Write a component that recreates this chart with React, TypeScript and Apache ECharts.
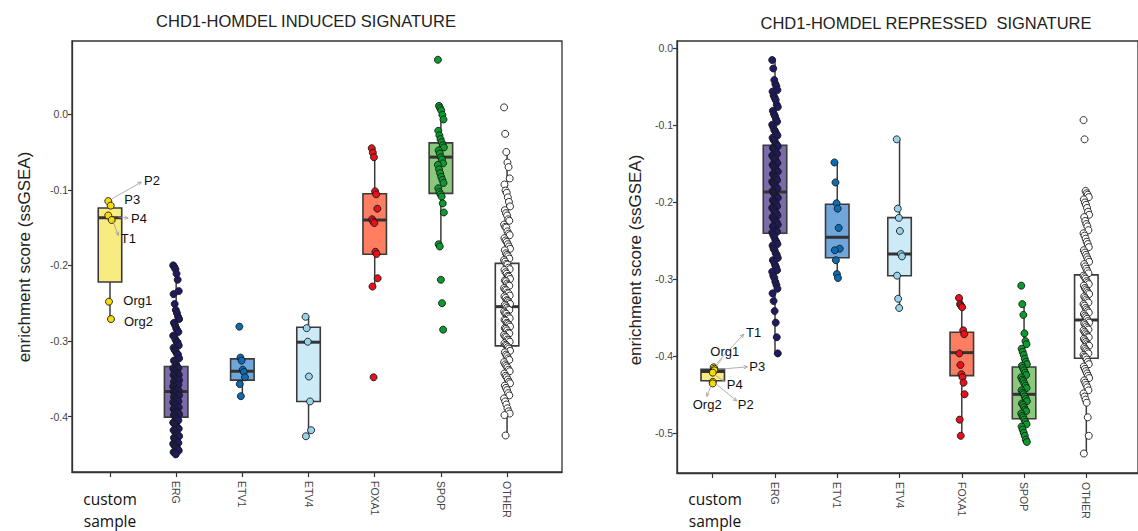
import React, { useEffect, useRef } from "react";
import * as echarts from "echarts";

// ---------- categories & ticks ----------
const groups = ["custom", "ERG", "ETV1", "ETV4", "FOXA1", "SPOP", "OTHER"];
const tickLabels = ["", "ERG", "ETV1", "ETV4", "FOXA1", "SPOP", "OTHER"];
const yTicksInduced = [0, -0.1, -0.2, -0.3, -0.4];
const yTicksRepressed = [0, -0.1, -0.2, -0.3, -0.4, -0.5];

// ---------- INDUCED signature ----------
const indCustomNames = ["P2", "P3", "P4", "T1", "Org1", "Org2"];
const indCustom = [-0.115, -0.121, -0.134, -0.14, -0.248, -0.271];
const indErg = [-0.2, -0.202, -0.205, -0.211, -0.219, -0.234, -0.238, -0.251, -0.259, -0.263, -0.268, -0.271, -0.276, -0.279, -0.283, -0.286, -0.288, -0.293, -0.294, -0.298, -0.301, -0.302, -0.306, -0.309, -0.312, -0.314, -0.317, -0.318, -0.323, -0.326, -0.327, -0.331,
  -0.334, -0.336, -0.336, -0.339, -0.34, -0.342, -0.343, -0.345, -0.345, -0.347, -0.349, -0.35, -0.352, -0.352, -0.354, -0.355, -0.357, -0.358, -0.358, -0.36, -0.361, -0.363, -0.364, -0.364, -0.366, -0.367,
  -0.368, -0.369, -0.371, -0.372, -0.372, -0.374, -0.376, -0.377, -0.378, -0.38, -0.381, -0.383, -0.384, -0.385, -0.387, -0.388, -0.39, -0.391, -0.393, -0.394, -0.395, -0.397, -0.398, -0.4,
  -0.402, -0.403, -0.405, -0.408, -0.409, -0.411, -0.413, -0.415, -0.416, -0.418, -0.419, -0.422, -0.423, -0.425, -0.426, -0.428, -0.43, -0.431, -0.433, -0.435, -0.436, -0.438, -0.439, -0.441, -0.443, -0.445, -0.447, -0.448, -0.45];
const indEtv1 = [-0.281, -0.322, -0.326, -0.338, -0.341, -0.348, -0.357, -0.373];
const indEtv4 = [-0.268, -0.283, -0.301, -0.347, -0.38, -0.418, -0.426];
const indFoxa1 = [-0.045, -0.051, -0.057, -0.102, -0.106, -0.125, -0.139, -0.142, -0.144, -0.182, -0.185, -0.217, -0.228, -0.348];
const indSpop = [0.072, 0.011, 0.008, 0.005, -0.001, -0.007, -0.022, -0.028, -0.033, -0.037, -0.041, -0.044, -0.048, -0.052, -0.057, -0.06, -0.065, -0.067, -0.073, -0.078, -0.083, -0.087, -0.091, -0.098, -0.103, -0.106, -0.109, -0.118, -0.13, -0.172, -0.175, -0.219, -0.25, -0.285];
const indOther = [0.009, -0.026, -0.05, -0.064, -0.07, -0.085, -0.093, -0.101, -0.104, -0.11, -0.116, -0.122, -0.127, -0.131, -0.134, -0.139, -0.141, -0.146, -0.149, -0.15, -0.155, -0.158, -0.16, -0.164, -0.167, -0.169, -0.172, -0.175, -0.178, -0.18, -0.184, -0.186, -0.188, -0.191, -0.193, -0.195,
  -0.198, -0.199, -0.203, -0.205, -0.206, -0.209, -0.211, -0.214, -0.215, -0.218, -0.22, -0.221, -0.224, -0.226, -0.227, -0.23, -0.232, -0.233, -0.236, -0.237, -0.24, -0.241, -0.243, -0.246, -0.247, -0.249, -0.251, -0.252, -0.254,
  -0.256, -0.258, -0.259, -0.261, -0.263, -0.264, -0.267, -0.268, -0.27, -0.272, -0.273, -0.276, -0.277, -0.279, -0.281, -0.283, -0.284, -0.286, -0.289, -0.29, -0.292, -0.294, -0.295, -0.298, -0.299, -0.301, -0.303, -0.305, -0.306,
  -0.308, -0.31, -0.313, -0.315, -0.318, -0.32, -0.323, -0.325, -0.328, -0.331, -0.333, -0.335, -0.338, -0.34, -0.343, -0.346, -0.348, -0.351, -0.354, -0.356, -0.359, -0.362, -0.365, -0.369, -0.372, -0.376, -0.38, -0.384, -0.389, -0.393, -0.396, -0.398, -0.425];
// box stats: [lower whisker, Q1, median, Q3, upper whisker]
const indBoxes = [
  [-0.271, -0.222, -0.137, -0.124, -0.115],
  [-0.45, -0.4007, -0.3668, -0.3338, -0.2],
  [-0.373, -0.3518, -0.34, -0.3237, -0.322],
  [-0.426, -0.38, -0.3016, -0.2818, -0.268],
  [-0.228, -0.1853, -0.14, -0.1052, -0.045],
  [-0.175, -0.1048, -0.0568, -0.0379, 0.011],
  [-0.425, -0.3065, -0.2546, -0.1973, -0.05],
];

// ---------- REPRESSED signature ----------
const repCustomNames = ["T1", "Org1", "P3", "P4", "P2", "Org2"];
const repCustom = [-0.414, -0.416, -0.418, -0.421, -0.433, -0.435];
const repErg = [-0.015, -0.026, -0.041, -0.046, -0.049, -0.054, -0.056, -0.061, -0.064, -0.067, -0.073, -0.076, -0.081, -0.085, -0.088, -0.092, -0.095, -0.099, -0.102, -0.106, -0.108, -0.111, -0.113, -0.116, -0.119, -0.12, -0.123, -0.125,
  -0.127, -0.129, -0.131, -0.133, -0.135, -0.137, -0.139, -0.141, -0.143, -0.144, -0.147, -0.149, -0.151, -0.153, -0.155, -0.157, -0.159, -0.16, -0.163, -0.165, -0.167, -0.168, -0.171, -0.173, -0.175, -0.176, -0.179, -0.181, -0.182, -0.185,
  -0.187, -0.189, -0.191, -0.193, -0.194, -0.197, -0.199, -0.201, -0.202, -0.205, -0.207, -0.208, -0.211, -0.213, -0.214, -0.217, -0.219, -0.22, -0.223, -0.225, -0.226, -0.229, -0.231, -0.232, -0.235, -0.237, -0.238, -0.239,
  -0.242, -0.245, -0.249, -0.251, -0.254, -0.256, -0.26, -0.262, -0.266, -0.268, -0.272, -0.275, -0.277, -0.281, -0.284, -0.288, -0.29, -0.295, -0.298, -0.303, -0.307, -0.312, -0.318, -0.328, -0.341, -0.356, -0.375, -0.396];
const repEtv1 = [-0.148, -0.174, -0.201, -0.208, -0.233, -0.26, -0.262, -0.275, -0.293, -0.298];
const repEtv4 = [-0.118, -0.208, -0.22, -0.237, -0.267, -0.27, -0.295, -0.325, -0.337];
const repFoxa1 = [-0.324, -0.332, -0.334, -0.336, -0.366, -0.371, -0.396, -0.411, -0.423, -0.427, -0.434, -0.449, -0.482, -0.503];
const repSpop = [-0.308, -0.332, -0.346, -0.37, -0.38, -0.384, -0.39, -0.394, -0.398, -0.403, -0.407, -0.41, -0.412, -0.415, -0.418, -0.421, -0.424, -0.427, -0.43, -0.432, -0.435, -0.438, -0.441, -0.444, -0.447, -0.449, -0.452, -0.455, -0.458, -0.461, -0.463, -0.466, -0.469, -0.471, -0.474, -0.477, -0.479, -0.482, -0.485, -0.488, -0.491, -0.495, -0.499, -0.503, -0.508, -0.511];
const repOther = [-0.093, -0.118, -0.185, -0.188, -0.19, -0.193, -0.196, -0.2, -0.203, -0.207, -0.212, -0.216, -0.219, -0.224, -0.228, -0.231, -0.236, -0.24, -0.243, -0.247, -0.251, -0.254, -0.258, -0.262, -0.265, -0.268, -0.271, -0.274, -0.277, -0.28, -0.283, -0.286, -0.289, -0.292,
  -0.295, -0.297, -0.299, -0.302, -0.304, -0.306, -0.308, -0.311, -0.313, -0.315, -0.317, -0.319, -0.322, -0.324, -0.326, -0.328, -0.33, -0.332, -0.334, -0.337, -0.339, -0.341, -0.343, -0.345, -0.347, -0.349, -0.351,
  -0.354, -0.356, -0.357, -0.359, -0.361, -0.363, -0.365, -0.366, -0.368, -0.37, -0.372, -0.374, -0.375, -0.377, -0.379, -0.381, -0.383, -0.385, -0.386, -0.388, -0.39, -0.392, -0.394, -0.396, -0.398, -0.4, -0.401,
  -0.404, -0.407, -0.41, -0.413, -0.416, -0.419, -0.422, -0.425, -0.428, -0.431, -0.434, -0.437, -0.44, -0.444, -0.448, -0.452, -0.456, -0.46, -0.479, -0.503, -0.526];
const repBoxes = [
  [-0.435, -0.4315, -0.4195, -0.4165, -0.414],
  [-0.396, -0.24, -0.1864, -0.1257, -0.015],
  [-0.298, -0.2717, -0.2452, -0.2023, -0.148],
  [-0.337, -0.2951, -0.2669, -0.2197, -0.118],
  [-0.503, -0.4249, -0.395, -0.3686, -0.324],
  [-0.511, -0.4808, -0.4491, -0.4136, -0.332],
  [-0.526, -0.4023, -0.3526, -0.294, -0.185],
];

// ---------- styles / layout ----------
const pointColors = ["#F7DA0A", "#1F1B62", "#0B6CB4", "#98D3EC", "#E8101A", "#0B9A2E", "#FFFFFF"];
const boxColors = ["#F8EB82", "#7B6BA9", "#70A6DB", "#CDEBF6", "#FF7E61", "#8CC77E", "#FFFFFF"];
const FONT = '"Liberation Sans", Arial, sans-serif';
// jitter for the custom sample points (x-units) and label layouts (pixel offsets)
const indCustomJit = [-0.026, 0.011, -0.026, 0.026, -0.015, 0.015];
const repCustomJit = [0.015, 0.026, 0.026, 0, 0, 0];
// [labelDx, labelDy, arrowFromDx, arrowFromDy, arrowToDx, arrowToDy, head]
const indLabelLayout = [
  [35.7, -20.7, 4, -2.5, 33, -19, 1],
  [13.6, -6],
  [22.7, 2.6, 10, 1.6, 20, 2.6, 1],
  [9, 18, 1, 0.5, 6.6, 15.5, 1],
  [14.3, -1],
  [13, 2],
];
const repLabelLayout = [
  [32.3, -35, 3, -4, 30, -33, 1],
  [-4, -17.8, 2, -3, 8, -10, 0],
  [35, -3.7, 4, -1, 33, -3.5, 1],
  [14, 12.3, 3, 3, 12, 9, 1],
  [25, 22.4, 2, 1, 24, 19, 1],
  [-20, 20.8, -2, 3, -6, 13, 1],
];

const jit = (i: number) => ((((i * 37) % 17) - 8) / 8) * 0.045;

function boxSeries(stats: number[][], ai: number) {
  return {
    type: "custom",
    xAxisIndex: ai,
    yAxisIndex: ai,
    silent: true,
    z: 2,
    data: stats.map((s, i) => [i + 1, ...s]),
    encode: { x: 0, y: [1, 2, 3, 4, 5] },
    renderItem: (params: any, api: any) => {
      const x = api.value(0);
      const lo = api.coord([x, api.value(1)]);
      const q1 = api.coord([x, api.value(2)]);
      const md = api.coord([x, api.value(3)]);
      const q3 = api.coord([x, api.value(4)]);
      const hi = api.coord([x, api.value(5)]);
      const hw = 11.75;
      const cx = lo[0];
      const stroke = "#3b3b3b";
      return {
        type: "group",
        children: [
          { type: "line", shape: { x1: cx, y1: hi[1], x2: cx, y2: q3[1] }, style: { stroke, lineWidth: 1.5 } },
          { type: "line", shape: { x1: cx, y1: q1[1], x2: cx, y2: lo[1] }, style: { stroke, lineWidth: 1.5 } },
          {
            type: "rect",
            shape: { x: cx - hw, y: q3[1], width: 2 * hw, height: q1[1] - q3[1] },
            style: { fill: boxColors[params.dataIndex], stroke, lineWidth: 1.6 },
          },
          { type: "line", shape: { x1: cx - hw, y1: md[1], x2: cx + hw, y2: md[1] }, style: { stroke: "#333", lineWidth: 3 } },
        ],
      };
    },
  };
}

function pointSeries(values: number[], g: number, ai: number, jitArr?: number[]) {
  return {
    type: "scatter",
    xAxisIndex: ai,
    yAxisIndex: ai,
    silent: true,
    z: 3,
    symbol: "circle",
    symbolSize: 7,
    itemStyle: { color: pointColors[g], borderColor: "#1a1a1a", borderWidth: 0.9, opacity: 1 },
    data: values.map((v, i) => [g + 1 + (jitArr ? jitArr[i] : jit(i)), v]),
  };
}

function labelSeries(values: number[], names: string[], jitArr: number[], layout: number[][], ai: number) {
  return {
    type: "custom",
    xAxisIndex: ai,
    yAxisIndex: ai,
    silent: true,
    z: 4,
    data: values.map((v, i) => [1 + jitArr[i], v]),
    renderItem: (params: any, api: any) => {
      const p = api.coord([api.value(0), api.value(1)]);
      const L = layout[params.dataIndex];
      const children: any[] = [
        {
          type: "text",
          x: p[0] + L[0],
          y: p[1] + L[1],
          style: {
            text: names[params.dataIndex],
            fill: "#111",
            font: `13px ${FONT}`,
            textAlign: "left",
            textVerticalAlign: "middle",
          },
        },
      ];
      if (L.length > 2) {
        const x1 = p[0] + L[2], y1 = p[1] + L[3], x2 = p[0] + L[4], y2 = p[1] + L[5];
        children.push({ type: "line", shape: { x1, y1, x2, y2 }, style: { stroke: "#9a9a9a", lineWidth: 0.8 } });
        if (L[6]) {
          const a = Math.atan2(y2 - y1, x2 - x1);
          const h = 4;
          children.push({
            type: "polyline",
            shape: {
              points: [
                [x2 - h * Math.cos(a - 0.45), y2 - h * Math.sin(a - 0.45)],
                [x2, y2],
                [x2 - h * Math.cos(a + 0.45), y2 - h * Math.sin(a + 0.45)],
              ],
            },
            style: { stroke: "#9a9a9a", lineWidth: 0.8, fill: "none" },
          });
        }
      }
      return { type: "group", children };
    },
  };
}

function xAxis(ai: number) {
  return {
    type: "value",
    gridIndex: ai,
    min: 0.426,
    max: 7.83,
    splitLine: { show: false },
    axisLine: { show: true, onZero: false, lineStyle: { color: "#333", width: 1.3 } },
    axisTick: { show: true, customValues: [1, 2, 3, 4, 5, 6, 7], length: 5, lineStyle: { color: "#333", width: 1.2 } },
    axisLabel: {
      customValues: [2, 3, 4, 5, 6, 7],
      rotate: -90,
      margin: 9,
      fontSize: 10.5,
      color: "#444",
      fontFamily: FONT,
      formatter: (v: number) => tickLabels[Math.round(v) - 1],
    },
  };
}

function yAxis(ai: number, min: number, max: number, ticks: number[]) {
  return {
    type: "value",
    gridIndex: ai,
    min,
    max,
    splitLine: { show: false },
    axisLine: { show: true, onZero: false, lineStyle: { color: "#333", width: 1.3 } },
    axisTick: { show: true, customValues: ticks, length: 4, lineStyle: { color: "#333", width: 1.2 } },
    axisLabel: {
      customValues: ticks,
      margin: 4,
      fontSize: 10.5,
      color: "#444",
      fontFamily: FONT,
      formatter: (v: number) => (Math.abs(v) < 1e-9 ? "0.0" : v.toFixed(1)),
    },
  };
}

export default function App() {
  const ref = useRef<HTMLDivElement>(null);
  useEffect(() => {
    if (!ref.current) return;
    const chart = echarts.init(ref.current, undefined, { renderer: "svg" });
    const indPoints = [indCustom, indErg, indEtv1, indEtv4, indFoxa1, indSpop, indOther];
    const repPoints = [repCustom, repErg, repEtv1, repEtv4, repFoxa1, repSpop, repOther];
    const series: any[] = [boxSeries(indBoxes, 0), boxSeries(repBoxes, 1)];
    indPoints.forEach((vals, g) => series.push(pointSeries(vals, g, 0, g === 0 ? indCustomJit : undefined)));
    repPoints.forEach((vals, g) => series.push(pointSeries(vals, g, 1, g === 0 ? repCustomJit : undefined)));
    series.push(labelSeries(indCustom, indCustomNames, indCustomJit, indLabelLayout, 0));
    series.push(labelSeries(repCustom, repCustomNames, repCustomJit, repLabelLayout, 1));

    const titleStyle = { fill: "#222", font: `16.5px ${FONT}`, textAlign: "center", textVerticalAlign: "middle" };
    const yNameStyle = { fill: "#222", font: `17px ${FONT}`, textAlign: "center", textVerticalAlign: "middle" };
    const customStyle = {
      fill: "#111",
      font: `15.5px "Open Sans", ${FONT}`,
      textAlign: "center",
      textVerticalAlign: "top",
      lineHeight: 22,
    };

    chart.setOption({
      animation: false,
      backgroundColor: "#ffffff",
      grid: [
        { left: 72, top: 41, width: 490, height: 431, show: true, borderColor: "#333", borderWidth: 1.3, backgroundColor: "transparent" },
        { left: 677, top: 41, width: 490, height: 432, show: true, borderColor: "#333", borderWidth: 1.3, backgroundColor: "transparent" },
      ],
      xAxis: [xAxis(0), xAxis(1)],
      yAxis: [yAxis(0, -0.4733, 0.0968, yTicksInduced), yAxis(1, -0.5513, 0.0097, yTicksRepressed)],
      series,
      graphic: [
        { type: "text", x: 306, y: 21, style: { ...titleStyle, text: "CHD1-HOMDEL INDUCED SIGNATURE" } },
        { type: "text", x: 926, y: 23, style: { ...titleStyle, text: "CHD1-HOMDEL REPRESSED  SIGNATURE" } },
        { type: "text", x: 24, y: 257, rotation: Math.PI / 2, style: { ...yNameStyle, text: "enrichment score (ssGSEA)" } },
        { type: "text", x: 635, y: 260, rotation: Math.PI / 2, style: { ...yNameStyle, text: "enrichment score (ssGSEA)" } },
        { type: "text", x: 110, y: 488, style: { ...customStyle, text: "custom\nsample" } },
        { type: "text", x: 715, y: 488, style: { ...customStyle, text: "custom\nsample" } },
      ],
    });
    return () => chart.dispose();
  }, []);
  return (
    <div
      ref={ref}
      style={{ position: "absolute", left: 0, top: 0, width: 1138, height: 531, background: "#fff" }}
    />
  );
}
